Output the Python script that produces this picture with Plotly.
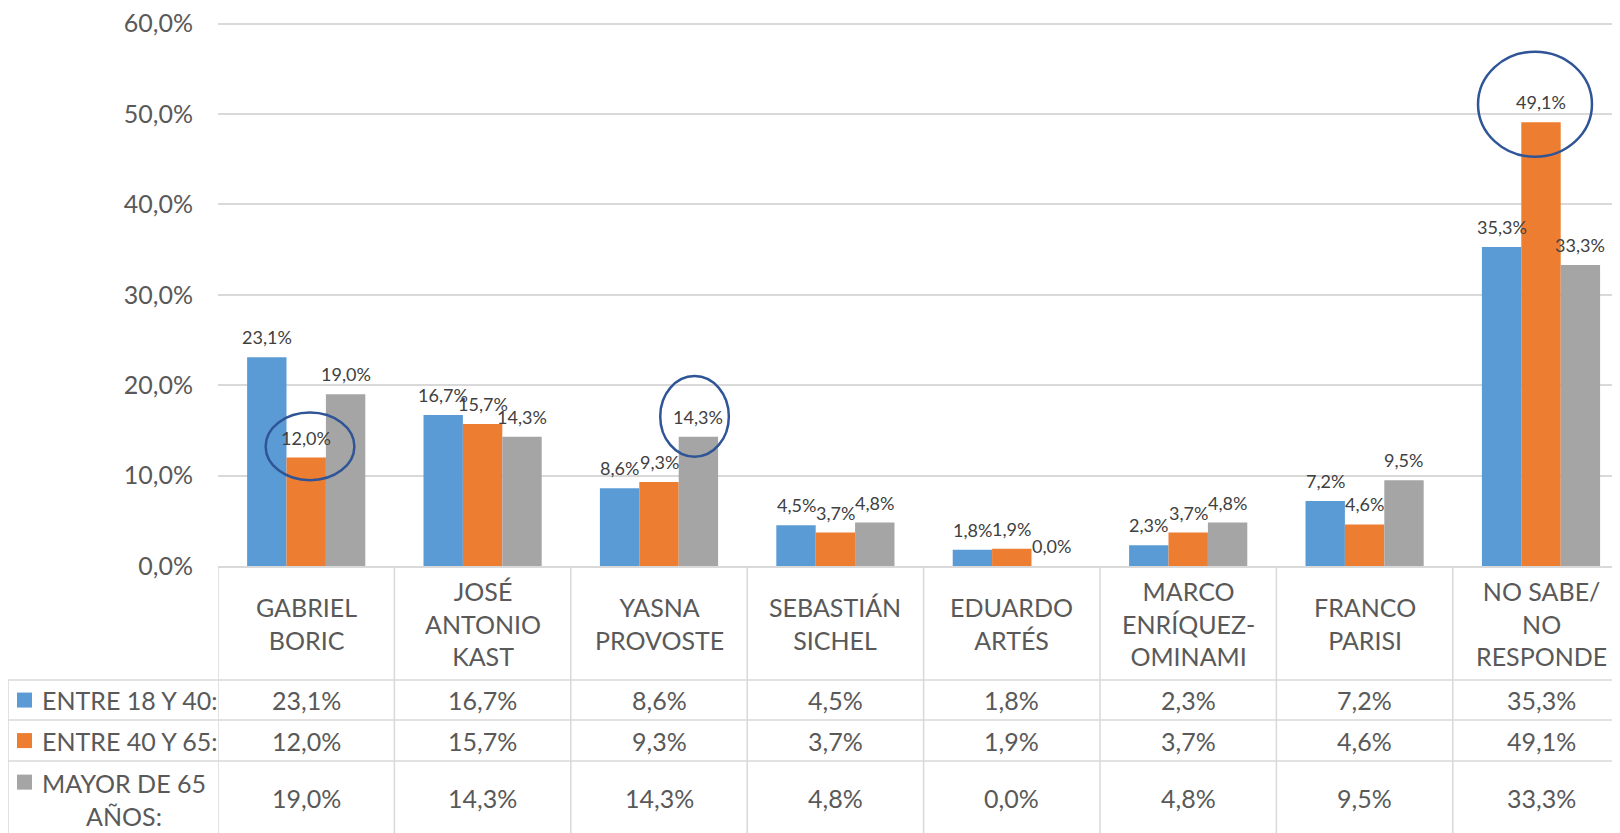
import plotly.graph_objects as go

# candidatos (eje de categorías) y etiquetas de la tabla
categorias = ["Gabriel Boric", "José Antonio Kast", "Yasna Provoste", "Sebastián Sichel",
              "Eduardo Artés", "Marco Enríquez-Ominami", "Franco Parisi", "No sabe/No responde"]
etiquetas_tabla = ["GABRIEL<br>BORIC", "JOSÉ<br>ANTONIO<br>KAST", "YASNA<br>PROVOSTE",
                   "SEBASTIÁN<br>SICHEL", "EDUARDO<br>ARTÉS", "MARCO<br>ENRÍQUEZ-<br>OMINAMI",
                   "FRANCO<br>PARISI", "NO SABE/<br>NO<br>RESPONDE"]

series = ["ENTRE 18 Y 40:", "ENTRE 40 Y 65:", "MAYOR DE 65<br>AÑOS:"]
entre_18_40 = [23.1, 16.7, 8.6, 4.5, 1.8, 2.3, 7.2, 35.3]
entre_40_65 = [12.0, 15.7, 9.3, 3.7, 1.9, 3.7, 4.6, 49.1]
mayor_65 = [19.0, 14.3, 14.3, 4.8, 0.0, 4.8, 9.5, 33.3]
valores = [entre_18_40, entre_40_65, mayor_65]
colores = ["#5B9BD5", "#ED7D31", "#A5A5A5"]

ticks_y = [0, 10, 20, 30, 40, 50, 60]


def pct(v):
    return f"{v:.1f}".replace(".", ",") + "%"


FONT = "Lato"
GRIS = "#595959"
LINEA = "#D9D9D9"

# geometría en píxeles del original (la página html añade 8px de margen)
OFF = 8
W, H = 1620 - OFF, 833 - OFF
BASE, IZQ = 566, 218
unidad = (566 - 24) / 60          # px por punto porcentual
YMAX = 60.3
TOPE = BASE - YMAX * unidad
plot_h = BASE - TOPE
plot_w = 1620 - IZQ
cat_w = 176.4
bargap = 0.33
bar_w = cat_w * (1 - bargap) / 3


def py(p):
    return (BASE - p) / plot_h


def px(p):
    return (p - IZQ) / plot_w


fig = go.Figure()
for nombre, vals, col in zip(series, valores, colores):
    fig.add_trace(go.Bar(x=categorias, y=vals, name=nombre, marker_color=col,
                         marker_line_width=0, showlegend=False))

# etiquetas de datos sobre las barras
for s, vals in enumerate(valores):
    for k, v in enumerate(vals):
        fig.add_annotation(x=k, y=v, xref="x", yref="y", showarrow=False, text=pct(v),
                           xshift=(s - 1) * bar_w, yshift=20, yanchor="middle",
                           font=dict(family=FONT, size=18, color="#404040"))

# tabla de datos
filas_y = [700, 740.5, 798]
for k, etq in enumerate(etiquetas_tabla):
    fig.add_annotation(x=k, y=py(623), xref="x", yref="paper", text=etq, showarrow=False,
                       yanchor="middle", align="center",
                       font=dict(family=FONT, size=25, color=GRIS))
    for s, vals in enumerate(valores):
        fig.add_annotation(x=k, y=py(filas_y[s]), xref="x", yref="paper", showarrow=False,
                           text=pct(vals[k]), yanchor="middle",
                           font=dict(family=FONT, size=25, color=GRIS))

for s, nombre in enumerate(series):
    fig.add_annotation(x=px(40), y=py(filas_y[s] + (1 if s == 2 else 0)), xref="paper", yref="paper",
                       text=nombre, showarrow=False, xanchor="left", yanchor="middle",
                       align="center", font=dict(family=FONT, size=25, color=GRIS))
    ky = 782 if s == 2 else filas_y[s]
    fig.add_shape(type="rect", xref="paper", yref="paper", x0=px(17), x1=px(32),
                  y0=py(ky - 7.5), y1=py(ky + 7.5), fillcolor=colores[s], line_width=0)

# líneas de la tabla
for k in range(len(categorias) + 1):
    fig.add_shape(type="line", xref="x", yref="paper", x0=k - 0.5, x1=k - 0.5,
                  y0=0, y1=py(850), line=dict(color=LINEA, width=1.5))
for yy in [680, 720, 761]:
    fig.add_shape(type="line", xref="paper", yref="paper", x0=px(8), x1=1.01,
                  y0=py(yy), y1=py(yy), line=dict(color=LINEA, width=1.5))
fig.add_shape(type="line", xref="paper", yref="paper", x0=px(8), x1=px(8),
              y0=py(680), y1=py(850), line=dict(color=LINEA, width=1.5))

# círculos resaltando valores
for x0, x1, y0, y1 in [(-0.23, 0.273, 9.49, 16.98), (2.007, 2.396, 12.09, 21.02),
                       (6.643, 7.289, 45.28, 56.9)]:
    fig.add_shape(type="circle", xref="x", yref="y", x0=x0, x1=x1, y0=y0, y1=y1,
                  line=dict(color="#2F5597", width=2.5))

fig.update_layout(
    width=W, height=H,
    margin=dict(l=IZQ - OFF, r=0, t=TOPE - OFF, b=833 - BASE),
    paper_bgcolor="white", plot_bgcolor="white",
    barmode="group", bargap=bargap, bargroupgap=0,
    font=dict(family=FONT, color=GRIS),
)
fig.update_xaxes(type="category", range=[-0.5, plot_w / cat_w - 0.5], showticklabels=False,
                 showgrid=False, showline=True, linecolor=LINEA, linewidth=1.5, zeroline=False)
fig.update_yaxes(range=[0, YMAX], tickmode="array", tickvals=ticks_y,
                 ticktext=[pct(t) for t in ticks_y], ticklabeloverflow="allow",
                 showgrid=True, gridcolor=LINEA, gridwidth=1.5, zeroline=False, showline=False,
                 ticklabelstandoff=24, tickfont=dict(family=FONT, size=25, color=GRIS))

fig.write_html("out.html")
